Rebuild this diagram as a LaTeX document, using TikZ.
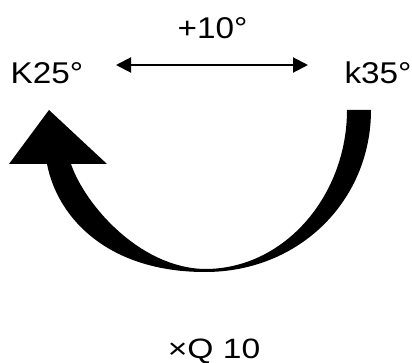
\documentclass[tikz,border=0pt]{standalone}
\usepackage{fontspec}
\setmainfont{Liberation Sans}
\usetikzlibrary{arrows.meta}
\tikzset{
  lbl/.style={inner sep=0pt, anchor=base, xscale=1.11, font=\fontsize{30}{34}\selectfont},
  lblb/.style={inner sep=0pt, anchor=base, xscale=1.2, font=\fontsize{28}{32}\selectfont},
  dbl/.style={line width=2pt, {Triangle[length=15pt,width=15pt]}-{Triangle[length=15pt,width=15pt]}},
}
\begin{document}
\begin{tikzpicture}[x=1pt,y=-1pt]
\useasboundingbox (0,0) rectangle (412,363);
\node[lbl] (plus) at (212.5,39) {+10°};
\node[lbl] (K25) at (47,84) {K25°};
\node[lbl] (k35) at (378,84) {k35°};
\node[lblb] (xq) at (214,358.5) {×Q 10};
\coordinate (la) at (116,65);
\coordinate (ra) at (308,65);
\draw[dbl] (la) -- (ra);
% curved arrow
\fill (371,110) -- (347,110)
  .. controls (347,195) and (285,269) .. (205,269)
  .. controls (140,268) and (85,205) .. (71,164)
  -- (107,164) -- (49,110) -- (9,164) -- (47,164)
  .. controls (58,220) and (110,272) .. (205,272)
  .. controls (300,272) and (371,200) .. (371,110) -- cycle;
\end{tikzpicture}
\end{document}
